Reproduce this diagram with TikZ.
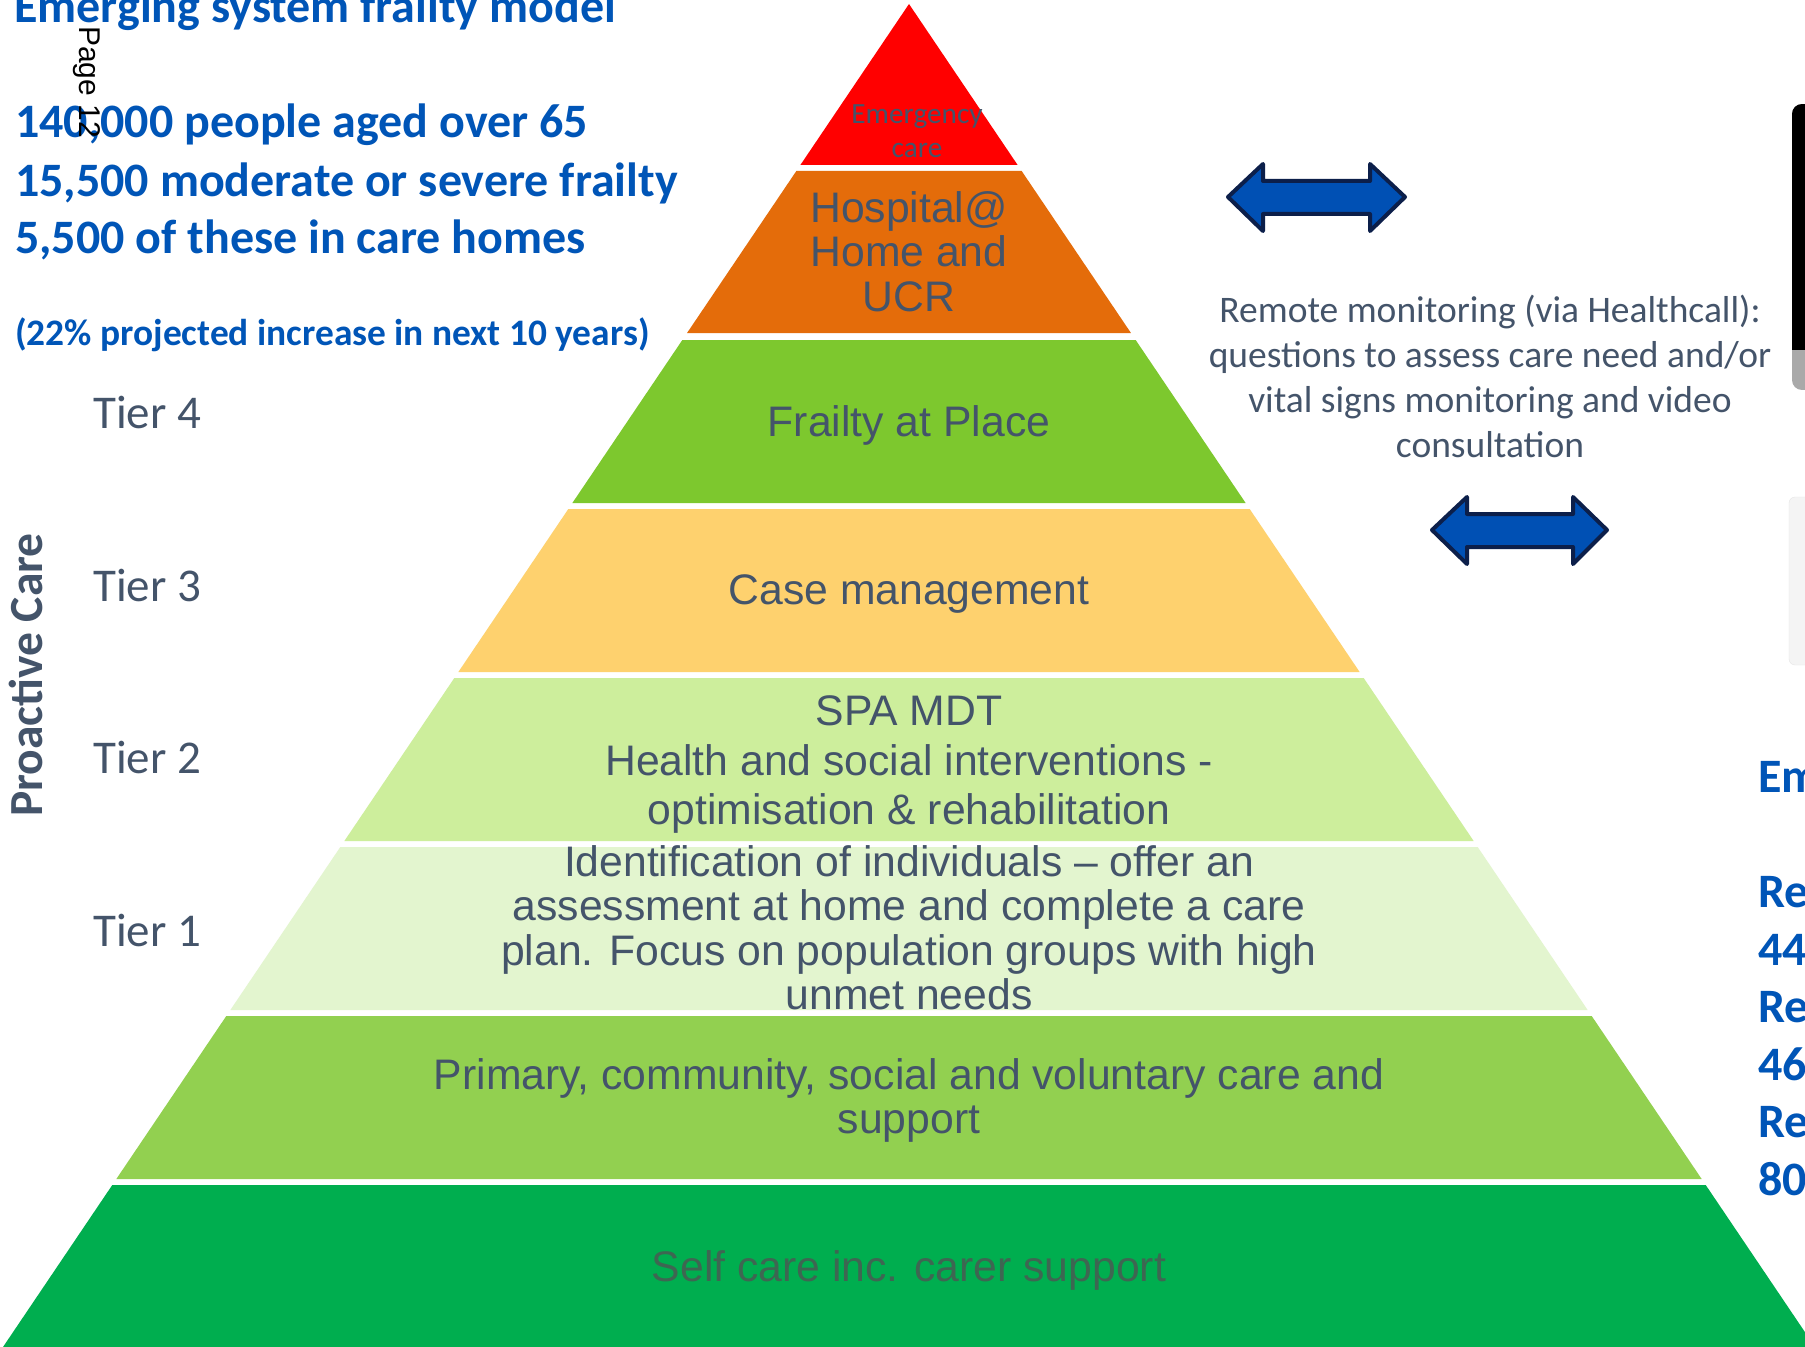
\documentclass[tikz,border=0pt]{standalone}
\usepackage{fontspec}
\setmainfont{Carlito}
\newfontfamily\arialf{Liberation Sans}
\definecolor{cRed}{HTML}{FF0000}
\definecolor{cOrange}{HTML}{E46C0A}
\definecolor{cFrail}{HTML}{7DC82E}
\definecolor{cCase}{HTML}{FED16E}
\definecolor{cSpa}{HTML}{CDEE9C}
\definecolor{cTierOne}{HTML}{E3F5CF}
\definecolor{cPrim}{HTML}{92D050}
\definecolor{cSelf}{HTML}{00AE4F}
\definecolor{cText}{HTML}{44546A}
\definecolor{cSelfText}{HTML}{3E6652}
\definecolor{cBlue}{HTML}{0055B7}
\definecolor{cArrow}{HTML}{0050B4}
\definecolor{cArrowEdge}{HTML}{0C1F4A}
\definecolor{cDevGrey}{HTML}{A9A9A9}
\definecolor{cFaint}{HTML}{F4F4F4}
\definecolor{cFaintEdge}{HTML}{E6E6E6}
\newcommand\pyrband[3]{\fill[#3] ({909-(#1-4)*0.6746},#1) -- ({909+(#1-4)*0.6746},#1) -- ({909+(#2-4)*0.6746},#2) -- ({909-(#2-4)*0.6746},#2) -- cycle;}
\begin{document}
\begin{tikzpicture}[x=1bp,y=-1bp,
  pyrtext/.style={font={\fontsize{42.7bp}{44.5bp}\selectfont\arialf}, text=cText, align=center, inner sep=0pt},
  bluetext/.style={font={\fontsize{48bp}{58bp}\selectfont\bfseries}, text=cBlue, inner sep=0pt, anchor=base west},
  tiertext/.style={font={\fontsize{47bp}{56bp}\selectfont}, text=cText, inner sep=0pt, anchor=base west},
  arrowshape/.style={fill=cArrow, draw=cArrowEdge, line width=4bp, line join=round}]
\useasboundingbox (0,0) rectangle (1805,1347);
\fill[white] (0,0) rectangle (1805,1347);
\begin{scope}
\clip (0,0) rectangle (1805,1347);
% pyramid bands
\pyrband{4}{165}{cRed}
\pyrband{171}{333}{cOrange}
\pyrband{340}{503}{cFrail}
\pyrband{509}{672}{cCase}
\pyrband{678}{841}{cSpa}
\pyrband{847}{1010}{cTierOne}
\pyrband{1016}{1179}{cPrim}
\pyrband{1185}{1360}{cSelf}
% right edge device
\begin{scope}
\clip[rounded corners=10bp] (1792,104) rectangle (1840,390);
\fill[cDevGrey] (1792,104) rectangle (1840,390);
\fill[black] (1792,104) rectangle (1840,350);
\end{scope}
\draw[draw=cFaintEdge, fill=cFaint, rounded corners=6bp] (1789,497) rectangle (1840,665);
% double arrows
\filldraw[arrowshape] (1228,197) -- (1263,164) -- (1263,181) -- (1370,181) -- (1370,164) -- (1405,197) -- (1370,231) -- (1370,214) -- (1263,214) -- (1263,231) -- cycle;
\filldraw[arrowshape] (1432,530) -- (1467,497) -- (1467,514) -- (1573,514) -- (1573,497) -- (1607,530) -- (1573,564) -- (1573,547) -- (1467,547) -- (1467,564) -- cycle;
% pyramid texts
\node[font={\fontsize{29.3bp}{34bp}\selectfont}, text=cText, align=center, inner sep=0pt] (emerg) at (917,131) {Emergency\\care};
\node[pyrtext] (hosp) at (909,251.5) {Hospital@\\Home and\\UCR};
\node[pyrtext] (frail) at (909,425) {Frailty at Place};
\node[pyrtext] (casem) at (909,594) {Case management};
\node[pyrtext, font={\fontsize{42.7bp}{49.5bp}\selectfont\arialf}] (spa) at (909,765) {SPA MDT\\Health and social interventions -\\optimisation \& rehabilitation};
\node[pyrtext] (ident) at (909,927.5) {Identification of individuals \textendash{} offer an\\assessment at home and complete a care\\plan. Focus on population groups with high\\unmet needs};
\node[pyrtext] (prim) at (909,1100.5) {Primary, community, social and voluntary care and\\support};
\node[pyrtext, text=cSelfText] (selfc) at (909,1270) {Self care inc. carer support};
% left texts
\node[bluetext] (title) at (14,23) {Emerging system frailty model};
\node[bluetext] (stat1) at (15,138) {140,000 people aged over 65};
\node[bluetext] (stat2) at (15,196.5) {15,500 moderate or severe frailty};
\node[bluetext] (stat3) at (15,254) {5,500 of these in care homes};
\node[bluetext, font={\fontsize{37.4bp}{44bp}\selectfont\bfseries}] (proj) at (15,345.5) {(22\% projected increase in next 10 years)};
\node[tiertext] (t4) at (93,428) {Tier 4};
\node[tiertext] (t3) at (93,601) {Tier 3};
\node[tiertext] (t2) at (93,773) {Tier 2};
\node[tiertext] (t1) at (93,946) {Tier 1};
\node[font={\fontsize{47.5bp}{56bp}\selectfont\bfseries}, text=cText, inner sep=0pt, rotate=90] (proact) at (26,675) {Proactive Care};
% remote monitoring
\node[font={\fontsize{37.5bp}{45bp}\selectfont}, text=cText, align=center, inner sep=0pt] (remote) at (1490,376) {Remote monitoring (via Healthcall):\\questions to assess care need and/or\\vital signs monitoring and video\\consultation};
% right cut-off texts
\node[bluetext] (r1) at (1758,792) {Em};
\node[bluetext] (r2) at (1758,907) {Re};
\node[bluetext] (r3) at (1758,965) {44};
\node[bluetext] (r4) at (1758,1022) {Re};
\node[bluetext] (r5) at (1758,1080) {46};
\node[bluetext] (r6) at (1758,1137) {Re};
\node[bluetext] (r7) at (1758,1195) {80};
% page label
\node[font={\fontsize{30bp}{36bp}\selectfont\arialf}, text=black, inner sep=0pt, rotate=-90] (pagel) at (87,82) {Page 12};
\end{scope}
\end{tikzpicture}
\end{document}
